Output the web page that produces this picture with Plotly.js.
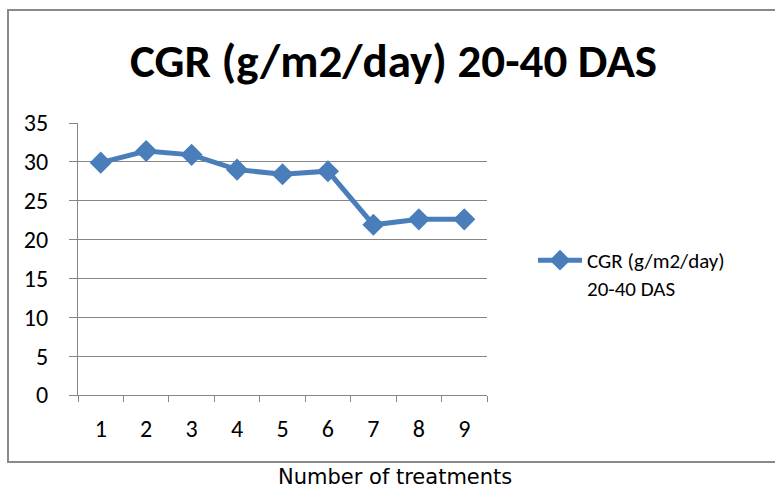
<!DOCTYPE html>
<html>
<head>
<meta charset="utf-8">
<script src="https://cdn.plot.ly/plotly-3.0.1.min.js"></script>
<style>html,body{margin:0;padding:0;background:#fff;}#chart{width:775px;height:491px;}</style>
</head>
<body>
<div id="chart"></div>
<script>
var categories = ["1","2","3","4","5","6","7","8","9"];
var cgrValues = [29.9, 31.4, 30.9, 29.0, 28.4, 28.8, 21.9, 22.6, 22.6];
var yTicks = [0, 5, 10, 15, 20, 25, 30, 35];
var seriesName = "CGR (g/m2/day)<br>20-40 DAS";
var chartTitle = "CGR (g/m2/day) 20-40 DAS";
var xLabel = "Number of treatments";

var W = 775, H = 491;
var L = 78, R = 487, T = 123, B = 395;
function px(x){ return (x - L) / (R - L); }
function py(y){ return (B - y) / (B - T); }

var font = "Carlito, Calibri, Lato, 'Liberation Sans', Arial, sans-serif";

var trace = {
  x: categories,
  y: cgrValues,
  type: "scatter",
  mode: "lines+markers",
  name: seriesName,
  line: {color: "#4A7EBB", width: 5},
  marker: {symbol: "diamond", size: 17, color: "#4A7EBB"}
};

var layout = {
  width: W, height: H,
  margin: {l: L, r: W - R, t: T, b: H - B, pad: 0},
  paper_bgcolor: "#ffffff",
  plot_bgcolor: "#ffffff",
  font: {family: font, size: 22, color: "#000"},
  title: {
    text: "<b>" + chartTitle + "</b>",
    font: {family: font, size: 47, color: "#000"},
    x: 393.5 / W, xanchor: "center",
    y: 1 - 61 / H, yanchor: "middle"
  },
  xaxis: {
    type: "category",
    range: [-0.5, 8.5],
    tickson: "boundaries",
    ticks: "outside", ticklen: 6, tickcolor: "#868686", tickwidth: 1,
    showline: true, linecolor: "#868686", linewidth: 1,
    showgrid: false, zeroline: false,
    tickfont: {family: font, size: 24, color: "#000"},
    ticklabelstandoff: 12,
    fixedrange: true
  },
  yaxis: {
    range: [0, 35],
    tickvals: yTicks,
    ticks: "outside", ticklen: 8, tickcolor: "#868686", tickwidth: 1,
    showline: true, linecolor: "#868686", linewidth: 1,
    showgrid: true, gridcolor: "#868686", gridwidth: 1,
    zeroline: false,
    tickfont: {family: font, size: 24, color: "#000"},
    ticklabelstandoff: 16,
    fixedrange: true
  },
  showlegend: true,
  legend: {
    x: px(533), xanchor: "left",
    y: py(240), yanchor: "top",
    valign: "top",
    itemwidth: 44,
    font: {family: font, size: 21, color: "#000"},
    bgcolor: "rgba(0,0,0,0)"
  },
  shapes: [{
    type: "rect", xref: "paper", yref: "paper",
    x0: px(8), x1: px(780), y0: py(462), y1: py(10),
    line: {color: "#8a8a8a", width: 2}, fillcolor: "rgba(0,0,0,0)", layer: "below"
  }],
  annotations: [{
    xref: "paper", yref: "paper",
    x: px(395), y: py(477), xanchor: "center", yanchor: "middle",
    text: xLabel, showarrow: false,
    font: {family: "'DejaVu Sans', 'Liberation Sans', Arial, sans-serif", size: 21, color: "#000"}
  }]
};

Plotly.newPlot("chart", [trace], layout, {displayModeBar: false, staticPlot: true});
</script>
</body>
</html>
